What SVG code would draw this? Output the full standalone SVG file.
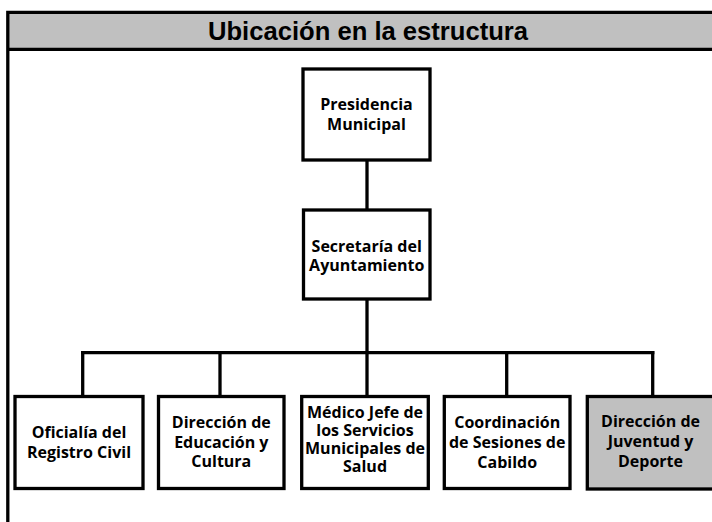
<svg xmlns="http://www.w3.org/2000/svg" width="712" height="522" viewBox="0 0 712 522">
<style>
.box{fill:#ffffff;stroke:#000000;stroke-width:3.3}
.gray{fill:#c0c0c0}
.lbl{font-family:"Open Sans","Noto Sans","Liberation Sans",sans-serif;font-weight:700;font-size:16px;fill:#000000;text-anchor:middle}
.con{stroke:#000000;stroke-width:3.3;fill:none;stroke-linecap:square}
</style>
<rect x="0" y="0" width="712" height="522" fill="#ffffff"/>
<g id="frame">
<rect x="7" y="12" width="707" height="37.5" fill="#c0c0c0"/>
<path d="M7.8 522 V12.3 H714 M7.8 49.3 H714" stroke="#000000" stroke-width="3.3" fill="none"/>
<text x="368" y="40" font-family="Liberation Sans, Arial, sans-serif" font-weight="700" font-size="25.6" text-anchor="middle" fill="#000000">Ubicación en la estructura</text>
</g>
<g id="connectors">
<path class="con" d="M367 160 V210"/>
<path class="con" d="M367 299 V396.5"/>
<path class="con" d="M82.7 352.7 H652.7"/>
<path class="con" d="M82.7 352.7 V396.5"/>
<path class="con" d="M220 352.7 V396.5"/>
<path class="con" d="M506.7 352.7 V396.5"/>
<path class="con" d="M652.7 352.7 V396.5"/>
</g>
<g id="presidencia">
<rect class="box" x="303" y="69" width="127" height="91"/>
<text class="lbl"><tspan x="366.5" y="110">Presidencia</tspan><tspan x="366.5" y="130">Municipal</tspan></text>
</g>
<g id="secretaria">
<rect class="box" x="303.5" y="210" width="126.5" height="89"/>
<text class="lbl"><tspan x="366.7" y="252">Secretaría del</tspan><tspan x="366.7" y="271">Ayuntamiento</tspan></text>
</g>
<g id="registro-civil">
<rect class="box" x="15" y="396.5" width="128" height="92"/>
<text class="lbl"><tspan x="79" y="438">Oficialía del</tspan><tspan x="79" y="458">Registro Civil</tspan></text>
</g>
<g id="educacion-cultura">
<rect class="box" x="158.5" y="396.5" width="125.5" height="92"/>
<text class="lbl"><tspan x="221.3" y="428">Dirección de</tspan><tspan x="221.3" y="447.5">Educación y</tspan><tspan x="221.3" y="467">Cultura</tspan></text>
</g>
<g id="medico-jefe">
<rect class="box" x="301.7" y="396.5" width="126.6" height="92"/>
<text class="lbl"><tspan x="365" y="418">Médico Jefe de</tspan><tspan x="365" y="436">los Servicios</tspan><tspan x="365" y="454">Municipales de</tspan><tspan x="365" y="472">Salud</tspan></text>
</g>
<g id="sesiones-cabildo">
<rect class="box" x="444.3" y="396.5" width="125.7" height="92"/>
<text class="lbl"><tspan x="507.2" y="427.5">Coordinación</tspan><tspan x="507.2" y="448">de Sesiones de</tspan><tspan x="507.2" y="468">Cabildo</tspan></text>
</g>
<g id="juventud-deporte">
<rect class="box gray" x="587.3" y="396.5" width="126.7" height="92.5"/>
<text class="lbl"><tspan x="650.5" y="427">Dirección de</tspan><tspan x="650.5" y="447">Juventud y</tspan><tspan x="650.5" y="467">Deporte</tspan></text>
</g>
</svg>
